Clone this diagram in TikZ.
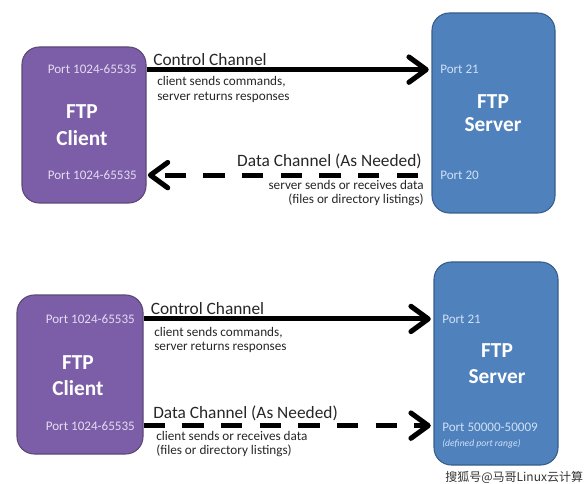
\documentclass[tikz,border=0pt]{standalone}
\usepackage{fontspec}
\setmainfont{Carlito}
\newfontfamily\cjkfont{Noto Sans CJK SC}
\usetikzlibrary{arrows.meta}
\definecolor{cpurple}{HTML}{7C5EA8}
\definecolor{cpurpleline}{HTML}{5C4776}
\definecolor{sblue}{HTML}{4F81BD}
\definecolor{sblueline}{HTML}{385D8A}
\definecolor{cport}{HTML}{E4DCF0}
\definecolor{sport}{HTML}{CFE0F5}
\tikzset{
  clientbox/.style={draw=cpurpleline, line width=0.8pt, fill=cpurple, rounded corners=13pt, inner sep=0pt},
  serverbox/.style={draw=sblueline, line width=0.8pt, fill=sblue, rounded corners=13pt, inner sep=0pt},
  boxtitle/.style={text=white, font=\fontsize{16}{19}\selectfont\bfseries, inner sep=0pt, anchor=base},
  cportlbl/.style={text=cport, font=\fontsize{9.8}{11}\selectfont, inner sep=0pt, anchor=base east},
  sportlbl/.style={text=sport, font=\fontsize{9.8}{11}\selectfont, inner sep=0pt, anchor=base west},
  chanlbl/.style={text=black!85, font=\fontsize{13}{15}\selectfont, inner sep=0pt},
  notelbl/.style={text=black!85, font=\fontsize{9.9}{11}\selectfont, inner sep=0pt},
  tip/.style={-{Straight Barb[length=13pt,width=19pt,line cap=round,line join=round]}},
  ctl/.style={line width=3.8pt, tip},
  dat/.style={line width=3.8pt, tip, dash pattern=on 16pt off 13pt},
}
\begin{document}
\begin{tikzpicture}[x=0.75pt,y=-0.75pt]
\useasboundingbox (0,0) rectangle (588,484);
% ---------- top diagram ----------
\node[clientbox, minimum width=93pt, minimum height=117pt] (c1) at (84,125) {};
\node[serverbox, minimum width=92.25pt, minimum height=150pt] (s1) at (493.5,113) {};
\node[boxtitle] (c1t1) at (82,119) {FTP};
\node[boxtitle] (c1t2) at (82,146) {Client};
\node[boxtitle] (s1t1) at (493,108.5) {FTP};
\node[boxtitle] (s1t2) at (493,132) {Server};
\node[cportlbl] (c1p1) at (137,74) {Port 1024-65535};
\node[cportlbl] (c1p2) at (137,179.5) {Port 1024-65535};
\node[sportlbl] (s1p1) at (440,73.5) {Port 21};
\node[sportlbl] (s1p2) at (440,180) {Port 20};
\node[chanlbl, anchor=base west] (l1a) at (153,66) {Control Channel};
\node[notelbl, anchor=base west] (l1b) at (157,86) {client sends commands,};
\node[notelbl, anchor=base west] (l1c) at (157,100.5) {server returns responses};
\node[chanlbl, anchor=base east] (l2a) at (422,167) {Data Channel (As Needed)};
\node[notelbl, anchor=base east] (l2b) at (424,190) {server sends or receives data};
\node[notelbl, anchor=base east] (l2c) at (424,203.5) {(files or directory listings)};
\draw[ctl, shorten >=2pt] (c1.east |- c1p1.center) -- (s1.west |- c1p1.center);
\draw[dat, shorten >=1pt, shorten <=10pt] (s1.west |- c1p2.center) -- (c1.east |- c1p2.center);
% ---------- bottom diagram ----------
\node[clientbox, minimum width=94.5pt, minimum height=119.25pt] (c2) at (80,374.5) {};
\node[serverbox, minimum width=93pt, minimum height=152.25pt] (s2) at (496,363.5) {};
\node[boxtitle] (c2t1) at (78,369) {FTP};
\node[boxtitle] (c2t2) at (78,395.5) {Client};
\node[boxtitle] (s2t1) at (497,357) {FTP};
\node[boxtitle] (s2t2) at (497,383) {Server};
\node[cportlbl] (c2p1) at (135,323.3) {Port 1024-65535};
\node[cportlbl] (c2p2) at (135,430) {Port 1024-65535};
\node[sportlbl] (s2p1) at (442,323) {Port 21};
\node[sportlbl] (s2p2) at (442,431.5) {Port 50000-50009};
\node[sportlbl, font=\fontsize{7.2}{8}\selectfont\itshape] (s2p3) at (442,446.5) {(defined port range)};
\node[chanlbl, anchor=base west] (l3a) at (150.5,315) {Control Channel};
\node[notelbl, anchor=base west] (l3b) at (154,336) {client sends commands,};
\node[notelbl, anchor=base west] (l3c) at (154,350) {server returns responses};
\node[chanlbl, anchor=base west] (l4a) at (153,418) {Data Channel (As Needed)};
\node[notelbl, anchor=base west] (l4b) at (156,440.5) {client sends or receives data};
\node[notelbl, anchor=base west] (l4c) at (156,454.5) {(files or directory listings)};
\draw[ctl, shorten >=2pt] (c2.east |- c2p1.center) -- (s2.west |- c2p1.center);
\draw[dat, shorten >=2pt] (c2.east |- c2p2.center) -- (s2.west |- c2p2.center);
% ---------- watermark ----------
\node[anchor=base west, inner sep=0pt, text=black!80, font=\cjkfont\fontsize{9}{11}\selectfont] (wm) at (445,481) {搜狐号@马哥Linux云计算};
\end{tikzpicture}
\end{document}
